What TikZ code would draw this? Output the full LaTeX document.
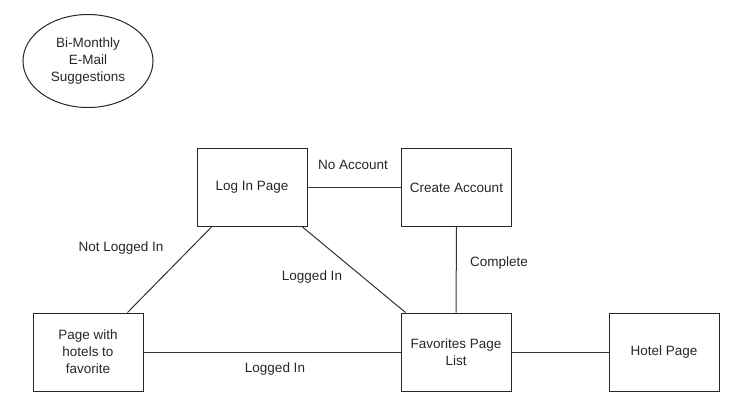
\documentclass[tikz,border=0pt]{standalone}
\usepackage{fontspec}
\setmainfont{Liberation Sans}
\usetikzlibrary{calc,shapes.geometric}
\begin{document}
\begin{tikzpicture}[x=1pt,y=-1pt,
  every node/.style={font=\fontsize{13.5}{17}\selectfont, text=black!85},
  box/.style={draw=black!85, line width=1pt, minimum width=110pt, minimum height=78pt, align=center, inner sep=2pt},
  oval/.style={draw=black!85, line width=1pt, ellipse, minimum width=130pt, minimum height=93pt, align=center, inner sep=0pt},
  link/.style={draw=black!80, line width=1pt},
  lbl/.style={inner sep=1pt}]
\useasboundingbox (0,0) rectangle (755,410);
\node[oval] (mail) at (88,61) {Bi-Monthly\\E-Mail\\Suggestions};
\node[box] (login) at (252,187.5) {Log In Page};
\node[box] (create) at (456.5,187.5) {Create Account};
\node[box] (page) at (88,352) {Page with\\hotels to\\favorite};
\node[box] (fav) at (456,352) {Favorites Page\\List};
\node[box] (hotel) at (664,352) {Hotel Page};
\coordinate (l1) at ($(login.south west)+(15,0)$);
\coordinate (p1) at ($(page.north west)+(95,0)$);
\coordinate (l2) at ($(login.south east)+(-5,0)$);
\coordinate (f1) at ($(fav.north west)+(5,0)$);
\draw[link] (login.east) -- (create.west);
\draw[link] (l1) -- (p1);
\draw[link] (l2) -- (f1);
\draw[link] (create.south) -- (fav.north);
\draw[link] (page.east) -- (fav.west);
\draw[link] (fav.east) -- (hotel.west);
\node[lbl] (noacc) at (353,165) {No Account};
\node[lbl] (notlog) at (121,248) {Not Logged In};
\node[lbl] (logd) at (312,277) {Logged In};
\node[lbl] (logb) at (275,369) {Logged In};
\node[lbl] (compl) at (499,263) {Complete};
\end{tikzpicture}
\end{document}
